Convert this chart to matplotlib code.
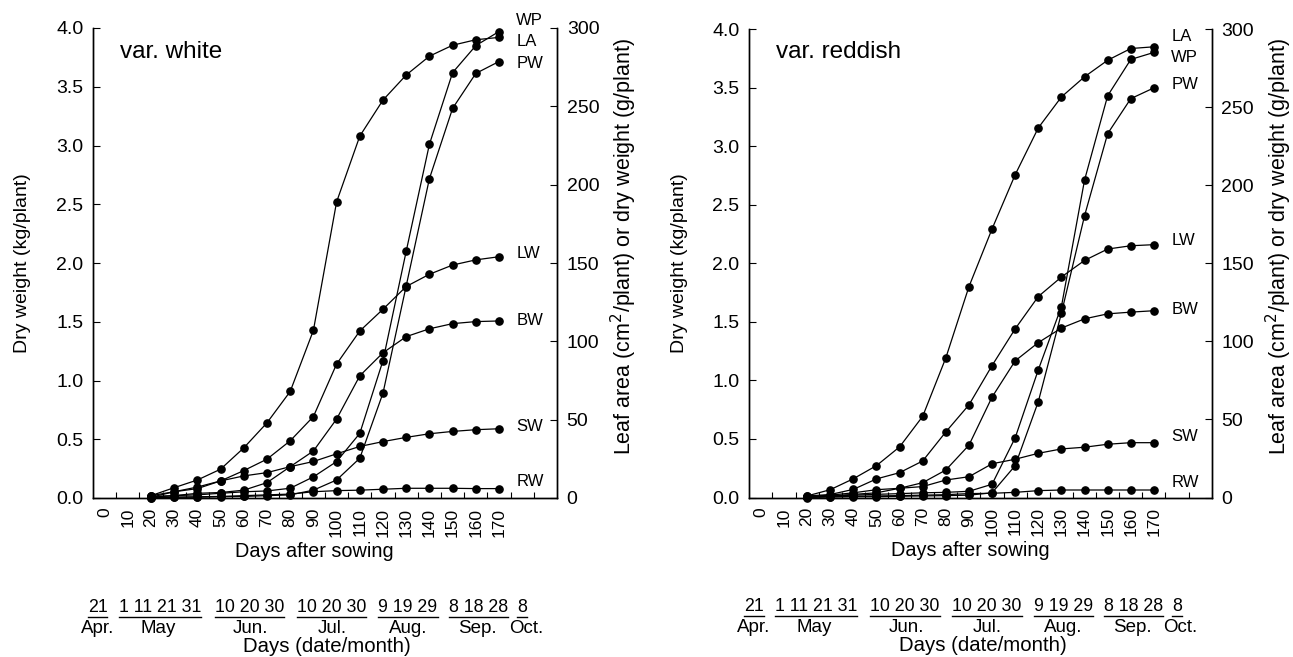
import numpy as np
import matplotlib
matplotlib.use("Agg")
import matplotlib.pyplot as plt

plt.rcParams['font.family'] = ['Liberation Sans', 'DejaVu Sans']

# ---------------- data ----------------
days = [20, 30, 40, 50, 60, 70, 80, 90, 100, 110, 120, 130, 140, 150, 160, 170]
day_ticklabels = list(range(0, 180, 10))

# var. white  (WP in kg/plant, others in cm2/plant or g/plant)
white_WP = [0.013, 0.02, 0.027, 0.04, 0.053, 0.06, 0.083, 0.18, 0.31, 0.55, 1.17, 2.10, 3.01, 3.62, 3.85, 3.97]
white_LA = [1.5, 6.6, 11.5, 18.4, 32, 48, 68, 107, 189, 231, 254, 270, 282, 289, 292.5, 294]
white_PW = [0, 0.5, 0.5, 0.8, 1, 1.5, 2, 5, 11.5, 25.4, 67, 135.4, 203.8, 248.7, 271, 278.6]
white_LW = [1.5, 4, 7, 10.9, 17.5, 24.8, 36.5, 52, 85.5, 106.6, 120.5, 135, 142.8, 148.7, 152, 154]
white_BW = [0.5, 1.5, 3, 3.5, 5, 9.8, 20, 30, 50.4, 78, 92.7, 103, 108, 111.3, 112.6, 113]
white_SW = [0.5, 4, 6, 10.9, 14.1, 16.2, 20, 23.3, 28.2, 32.9, 36, 38.7, 41, 42.5, 43.6, 44.2]
white_RW = [0.3, 0.5, 0.8, 1, 1.5, 2, 2.5, 4, 4.7, 5, 5.6, 6.2, 6.2, 6.2, 6, 6]

# var. reddish
red_WP = [0.007, 0.013, 0.02, 0.027, 0.033, 0.04, 0.044, 0.053, 0.113, 0.51, 1.09, 1.63, 2.71, 3.43, 3.74, 3.80]
red_LA = [1, 5, 12, 20.4, 32.4, 52, 89.4, 135, 172, 206.7, 236.7, 256.5, 269.4, 280, 287.5, 288.6]
red_PW = [0, 0.3, 0.5, 0.5, 0.8, 1, 1.2, 1.5, 3, 20.4, 61.4, 118, 180.4, 233, 255.4, 262.3]
red_LW = [1, 1.9, 5.2, 11.9, 15.9, 23.4, 42, 59.3, 84.5, 108, 128.7, 141.2, 151.8, 159.1, 161.2, 161.9]
red_BW = [0.5, 1, 2, 3, 5.9, 9.5, 17.6, 33.5, 64.3, 87.5, 99.2, 108.5, 114.4, 117.6, 118.7, 119.6]
red_SW = [0.5, 1.5, 3, 5, 5.9, 7, 11.2, 13.3, 21.6, 24.5, 28.3, 31.1, 32.2, 34.1, 35.1, 35.1]
red_RW = [0.3, 0.5, 0.8, 1, 1.2, 1.5, 1.8, 2.5, 2.7, 3.3, 4.4, 4.8, 4.8, 4.8, 4.8, 4.8]

series_names = ['LA', 'PW', 'LW', 'BW', 'SW', 'RW']
white_label_y = {'WP': 304.5, 'LA': 291.5, 'PW': 277.6, 'LW': 155.8, 'BW': 113, 'SW': 45.7, 'RW': 10.4}
red_label_y = {'LA': 295, 'WP': 281.5, 'PW': 264.4, 'LW': 164.6, 'BW': 120.2, 'SW': 39, 'RW': 9.5}

date_groups = ['21', '1 11 21 31', '10 20 30', '10 20 30', '9 19 29', '8 18 28', '8']
months = ['Apr.', 'May', 'Jun.', 'Jul.', 'Aug.', 'Sep.', 'Oct.']
# ---------------------------------------

W, H = 1293, 657
fig = plt.figure(figsize=(W / 100, H / 100), dpi=100)

group_centers = [0.0097, 0.144, 0.337, 0.514, 0.679, 0.831, 0.925]
month_centers = [0.0097, 0.140, 0.340, 0.515, 0.679, 0.828, 0.933]

line_kw = dict(color='black', lw=0.9, marker='o', ms=5.2, mfc='black', mec='black', clip_on=False)


def panel(rect, title, wp, others, label_y):
    ax = fig.add_axes(rect)
    ax2 = ax.twinx()
    for a in (ax, ax2):
        a.spines['top'].set_visible(False)
        a.set_xlim(-5, 195)
    ax.set_ylim(0, 4)
    ax2.set_ylim(0, 300)
    ax.plot(days, wp, **line_kw)
    for name in series_names:
        ax2.plot(days, others[name], **line_kw)
    # ticks
    ax.set_yticks(np.arange(0, 4.01, 0.5))
    ax.set_yticklabels([f'{v:.1f}' for v in np.arange(0, 4.01, 0.5)])
    ax2.set_yticks(np.arange(0, 301, 50))
    ax.tick_params(axis='y', direction='in', length=5, labelsize=14, pad=7)
    ax2.tick_params(axis='y', direction='in', length=5, labelsize=14, pad=7)
    ax.set_xticks(np.arange(5, 190, 10))
    ax.set_xticklabels([])
    ax.set_xticks(day_ticklabels, minor=True)
    ax.set_xticklabels([str(d) for d in day_ticklabels], minor=True, rotation=90)
    ax.tick_params(axis='x', which='major', direction='in', length=4)
    ax.tick_params(axis='x', which='minor', length=0, labelsize=12.5, pad=7)
    for sp in ax.spines.values():
        sp.set_linewidth(1.0)
    for sp in ax2.spines.values():
        sp.set_linewidth(1.0)
    # labels
    ax.text(0.058, 0.95, title, transform=ax.transAxes, fontsize=17.5, ha='left', va='center')
    ax.text(-0.151, 0.5, 'Dry weight (kg/plant)', transform=ax.transAxes, rotation=90,
            ha='center', va='center', fontsize=14)
    ax.text(1.145, 0.535, 'Leaf area (cm$^2$/plant) or dry weight (g/plant)', transform=ax.transAxes,
            rotation=90, ha='center', va='center', fontsize=15.5)
    ax.text(0.478, -0.113, 'Days after sowing', transform=ax.transAxes, ha='center', va='center', fontsize=14.3)
    for name, yv in label_y.items():
        ax2.text(177.5, yv, name, ha='left', va='center', fontsize=12)
    # date rows
    texts = []
    for s, c in zip(date_groups, group_centers):
        t = ax.text(c, -0.232, s, transform=ax.transAxes, ha='center', va='center', fontsize=12.8)
        texts.append(t)
    for m, c in zip(months, month_centers):
        ax.text(c, -0.277, m, transform=ax.transAxes, ha='center', va='center', fontsize=13.5)
    ax.text(0.505, -0.315, 'Days (date/month)', transform=ax.transAxes, ha='center', va='center', fontsize=14.7)
    return ax, texts


ax_w, tw = panel([93 / W, (H - 498) / H, 464 / W, 470 / H], 'var. white', white_WP,
                 dict(LA=white_LA, PW=white_PW, LW=white_LW, BW=white_BW, SW=white_SW, RW=white_RW),
                 white_label_y)
ax_r, tr = panel([749.3 / W, (H - 497.5) / H, 462.4 / W, 468.5 / H], 'var. reddish', red_WP,
                 dict(LA=red_LA, PW=red_PW, LW=red_LW, BW=red_BW, SW=red_SW, RW=red_RW),
                 red_label_y)

# underline date groups
fig.canvas.draw()
r = fig.canvas.get_renderer()
inv = fig.transFigure.inverted()
for ax, texts in ((ax_w, tw), (ax_r, tr)):
    for t in texts:
        bb = t.get_window_extent(r)
        (x0, y0), (x1, y1) = inv.transform([[bb.x0, bb.y0], [bb.x1, bb.y1]])
        fig.add_artist(plt.Line2D([x0, x1], [y0 - 0.002, y0 - 0.002], color='black', lw=1.0,
                                  transform=fig.transFigure))

fig.savefig('out.png', dpi=100)
